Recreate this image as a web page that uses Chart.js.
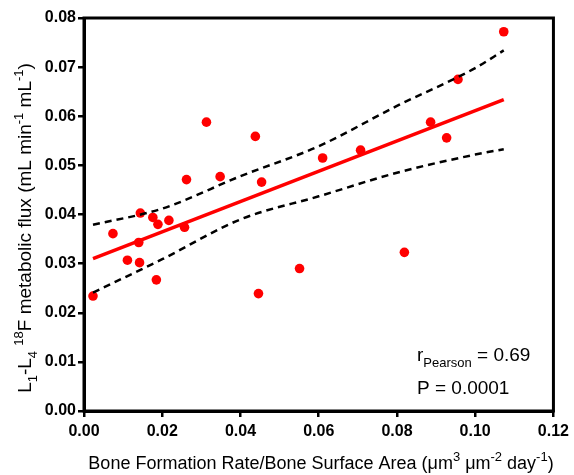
<!DOCTYPE html>
<html>
<head>
<meta charset="utf-8">
<script src="https://cdn.jsdelivr.net/npm/chart.js@4"></script>
<style>
  html, body { margin: 0; padding: 0; background: #fff; }
  #wrap { width: 574px; height: 475px; }
</style>
</head>
<body>
<div id="wrap"><canvas id="chart" width="574" height="475"></canvas></div>
<script>
// measured points (BFR/BS vs metabolic flux)
const bfr = [0.0023, 0.0074, 0.0111, 0.0144, 0.0140, 0.0142, 0.0176, 0.0189, 0.0185, 0.0217,
  0.0257, 0.0262, 0.0313, 0.0348, 0.0438, 0.0454, 0.0446, 0.0551, 0.0610, 0.0707,
  0.0819, 0.0886, 0.0927, 0.0956, 0.1073];
const flux = [0.0234, 0.0361, 0.0307, 0.0403, 0.0343, 0.0302, 0.0394, 0.0380, 0.0267, 0.0388,
  0.0374, 0.0471, 0.0588, 0.0477, 0.0559, 0.0466, 0.0239, 0.0290, 0.0515, 0.0531,
  0.0323, 0.0588, 0.0556, 0.0675, 0.0772];

// regression line and 95% band
const fitX = [0.0023, 0.1073];
const fitY = [0.0310, 0.0634];
const bandX = [0.0023, 0.02, 0.04, 0.06, 0.08, 0.10, 0.1073];
const upperY = [0.0379, 0.0412, 0.0478, 0.0539, 0.0621, 0.0698, 0.0734];
const lowerY = [0.0241, 0.0309, 0.0390, 0.0437, 0.0485, 0.0522, 0.0533];

const xTicks = [0, 0.02, 0.04, 0.06, 0.08, 0.10, 0.12];
const yTicks = [0, 0.01, 0.02, 0.03, 0.04, 0.05, 0.06, 0.07, 0.08];

const FONT = '"Liberation Sans", Arial, sans-serif';

const toXY = (xs, ys) => xs.map((x, i) => ({ x: x, y: ys[i] }));

// draws text made of parts: [text, 'n'|'sub'|'sup']
function richText(ctx, parts, x, y, size, align) {
  const small = Math.round(size * 0.7);
  let total = 0;
  parts.forEach(p => {
    ctx.font = (p[1] === 'n' ? size : small) + 'px ' + FONT;
    total += ctx.measureText(p[0]).width;
  });
  let cx = align === 'center' ? x - total / 2 : x;
  ctx.textAlign = 'left';
  ctx.textBaseline = 'alphabetic';
  parts.forEach(p => {
    ctx.font = (p[1] === 'n' ? size : small) + 'px ' + FONT;
    let dy = 0;
    if (p[1] === 'sub') dy = size * 0.3;
    if (p[1] === 'sup') dy = -size * 0.42;
    ctx.fillText(p[0], cx, y + dy);
    cx += ctx.measureText(p[0]).width;
  });
}

const decor = {
  id: 'decor',
  afterDraw(chart) {
    const ctx = chart.ctx;
    const a = chart.chartArea;
    ctx.save();
    // frame
    ctx.strokeStyle = '#000';
    ctx.lineWidth = 3;
    ctx.strokeRect(a.left, a.top, a.right - a.left, a.bottom - a.top);
    ctx.fillStyle = '#000';
    // x title
    richText(ctx, [['Bone Formation Rate/Bone Surface Area (\u03bcm', 'n'], ['3', 'sup'], [' \u03bcm', 'n'],
      ['-2', 'sup'], [' day', 'n'], ['-1', 'sup'], [')', 'n']], 321, 469, 18, 'center');
    // y title
    ctx.save();
    ctx.translate(31, 228);
    ctx.rotate(-Math.PI / 2);
    richText(ctx, [['L', 'n'], ['1', 'sub'], ['-L', 'n'], ['4', 'sub'], [' ', 'n'], ['18', 'sup'],
      ['F metabolic flux (mL min', 'n'], ['-1', 'sup'], [' mL', 'n'], ['-1', 'sup'], [')', 'n']], 0, 0, 19, 'center');
    ctx.restore();
    // stats
    richText(ctx, [['r', 'n'], ['Pearson', 'sub'], [' = 0.69', 'n']], 417, 361, 19, 'left');
    richText(ctx, [['P = 0.0001', 'n']], 417, 394, 19, 'left');
    ctx.restore();
  }
};

new Chart(document.getElementById('chart'), {
  type: 'scatter',
  data: {
    datasets: [
      {
        data: toXY(bandX, upperY), showLine: true, borderColor: '#000', borderWidth: 2.5,
        borderDash: [7, 5], pointRadius: 0, cubicInterpolationMode: 'monotone', fill: false
      },
      {
        data: toXY(bandX, lowerY), showLine: true, borderColor: '#000', borderWidth: 2.5,
        borderDash: [7, 5], pointRadius: 0, cubicInterpolationMode: 'monotone', fill: false
      },
      {
        data: toXY(fitX, fitY), showLine: true, borderColor: '#f00', borderWidth: 3.5,
        pointRadius: 0, fill: false
      },
      {
        data: toXY(bfr, flux), backgroundColor: '#f00', borderColor: '#f00',
        pointRadius: 4.8, borderWidth: 0
      }
    ]
  },
  options: {
    responsive: false,
    animation: false,
    layout: { padding: { top: 18, right: 16, left: 0, bottom: 0 } },
    plugins: { legend: { display: false }, tooltip: { enabled: false } },
    scales: {
      x: {
        type: 'linear', min: 0, max: 0.12,
        afterFit(s) { s.height = 64; },
        afterBuildTicks(s) { s.ticks = xTicks.map(v => ({ value: v })); },
        border: { color: '#000', width: 3 },
        grid: { drawOnChartArea: false, tickLength: 6, tickColor: '#000', lineWidth: 2.5 },
        ticks: {
          color: '#000', padding: 5, font: { family: FONT, size: 16, weight: 'bold' },
          callback: v => v.toFixed(2)
        }
      },
      y: {
        type: 'linear', min: 0, max: 0.08,
        afterFit(s) { s.width = 84; },
        afterBuildTicks(s) { s.ticks = yTicks.map(v => ({ value: v })); },
        border: { color: '#000', width: 3 },
        grid: { drawOnChartArea: false, tickLength: 6, tickColor: '#000', lineWidth: 2.5 },
        ticks: {
          color: '#000', padding: 2, font: { family: FONT, size: 16, weight: 'bold' },
          callback: v => v.toFixed(2)
        }
      }
    }
  },
  plugins: [decor]
});
</script>
</body>
</html>
